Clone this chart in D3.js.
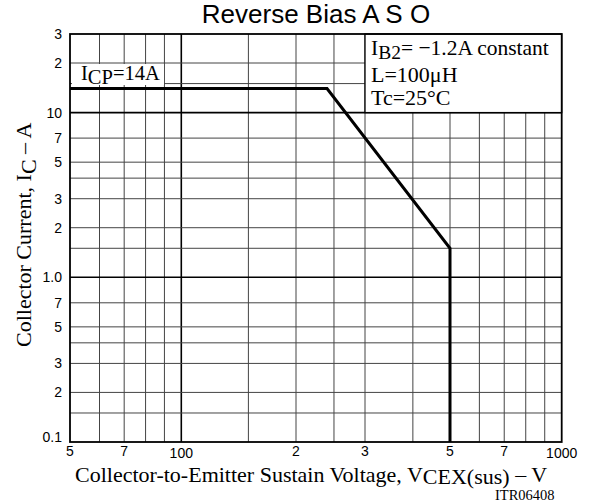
<!DOCTYPE html>
<html><head><meta charset="utf-8">
<script src="https://cdn.jsdelivr.net/npm/d3@7"></script>
<style>body{margin:0;background:#fff}</style>
</head><body>
<script>
// ---- data ----
const xTickValues = [50, 70, 100, 200, 300, 500, 700, 1000];
const xTickLabels = ["5", "7", "100", "2", "3", "5", "7", "1000"];
const yTickValues = [0.1, 0.2, 0.3, 0.5, 0.7, 1, 2, 3, 5, 7, 10, 20, 30];
const yTickLabels = ["0.1", "2", "3", "5", "7", "1.0", "2", "3", "5", "7", "10", "2", "3"];
const xGridValues = [60, 70, 80, 90, 100, 150, 200, 250, 300, 400, 500, 600, 700, 800, 900];
const yGridValues = [0.15, 0.2, 0.3, 0.4, 0.5, 0.7, 1, 1.5, 2, 3, 4, 5, 7, 10, 15, 20];
const curveVoltage = [50, 240, 500, 500];
const curveCurrent = [14, 14, 1.5, 0.1];

const W = 593, H = 504;
const svg = d3.select("body").append("svg").attr("width", W).attr("height", H);

// log scale, piecewise to follow the slightly uneven printed grid
const x = d3.scaleLog().domain([50, 60, 100, 200, 300, 500, 1000])
  .range([70, 99.5, 181.3, 296, 365, 450, 561.7]);
const y = d3.scaleLog().domain([0.1, 30]).range([442, 34]);
const x0 = x(50), x1 = x(1000), y0 = y(0.1), y1 = y(30);

const serif = "'Liberation Serif','Times New Roman',serif";
const sans = "'Liberation Sans',Arial,sans-serif";

// grid
const isDecadeX = v => v === 100;
const isDecadeY = v => v === 1 || v === 10;
svg.append("g").selectAll("line").data(xGridValues).join("line")
  .attr("x1", d => x(d)).attr("x2", d => x(d)).attr("y1", y0).attr("y2", y1)
  .attr("stroke", d => isDecadeX(d) ? "#000" : "#444")
  .attr("stroke-width", d => isDecadeX(d) ? 1.6 : 1);
svg.append("g").selectAll("line").data(yGridValues).join("line")
  .attr("y1", d => y(d)).attr("y2", d => y(d)).attr("x1", x0).attr("x2", x1)
  .attr("stroke", d => isDecadeY(d) ? "#000" : "#444")
  .attr("stroke-width", d => isDecadeY(d) ? 1.6 : 1);

// ICP label background
svg.append("rect").attr("x", 72).attr("y", 64).attr("width", 92).attr("height", 21).attr("fill", "#fff");
// condition box
svg.append("rect").attr("x", x(300)).attr("y", y1).attr("width", x1 - x(300)).attr("height", y(10) - y1)
  .attr("fill", "#fff").attr("stroke", "#000").attr("stroke-width", 1.3);

// border
svg.append("rect").attr("x", x0).attr("y", y1).attr("width", x1 - x0).attr("height", y0 - y1)
  .attr("fill", "none").attr("stroke", "#000").attr("stroke-width", 1.8);

// curve
const pts = curveVoltage.map((v, i) => [v, curveCurrent[i]]);
svg.append("path").datum(pts)
  .attr("d", d3.line().x(d => x(d[0])).y(d => y(d[1])))
  .attr("fill", "none").attr("stroke", "#000").attr("stroke-width", 3).attr("stroke-linejoin", "miter");

// x tick labels
svg.append("g").selectAll("text").data(xTickValues).join("text")
  .attr("x", d => x(d)).attr("y", d => (d === 100 || d === 1000) ? 458 : 456)
  .attr("text-anchor", "middle").attr("font-family", sans).attr("font-size", 14)
  .text((d, i) => xTickLabels[i]);

// y tick labels
svg.append("g").selectAll("text").data(yTickValues).join("text")
  .attr("x", 62).attr("y", d => y(d) + (d === 0.1 ? -5 : 0))
  .attr("dy", "0.36em")
  .attr("text-anchor", "end").attr("font-family", sans).attr("font-size", 14)
  .text((d, i) => yTickLabels[i]);

// title
svg.append("text").attr("x", 316).attr("y", 23).attr("text-anchor", "middle")
  .attr("font-family", sans).attr("font-size", 26).text("Reverse Bias A S O");

// ICP label
const icp = svg.append("text").attr("x", 81).attr("y", 80).attr("font-family", serif).attr("font-size", 20.5);
icp.append("tspan").text("I");
icp.append("tspan").attr("dy", 3.5).text("CP");
icp.append("tspan").attr("dy", -3.5).text("=14A");

// condition text
const c1 = svg.append("text").attr("x", 371).attr("y", 55).attr("font-family", serif).attr("font-size", 21.5);
c1.append("tspan").text("I");
c1.append("tspan").attr("dy", 4).attr("font-size", 19.5).text("B2");
c1.append("tspan").attr("dy", -4).text("= \u22121.2A constant");
svg.append("text").attr("x", 371).attr("y", 82).attr("font-family", serif).attr("font-size", 22).text("L=100\u03bcH");
svg.append("text").attr("x", 371).attr("y", 105).attr("font-family", serif).attr("font-size", 22).text("Tc=25\u00b0C");

// x axis label
const xl = svg.append("text").attr("x", 75).attr("y", 482).attr("font-family", serif).attr("font-size", 22);
xl.append("tspan").text("Collector-to-Emitter Sustain Voltage, V");
xl.append("tspan").attr("dy", 2).text("CEX(sus)");
xl.append("tspan").attr("dy", -2).text(" \u2013  V");
svg.append("text").attr("x", 495).attr("y", 500).attr("font-family", serif).attr("font-size", 14.5).text("ITR06408");

// y axis label
const yl = svg.append("text").attr("transform", "translate(31,347) rotate(-90)")
  .attr("font-family", serif).attr("font-size", 22);
yl.append("tspan").text("Collector Current, I");
yl.append("tspan").attr("dy", 5).text("C");
yl.append("tspan").attr("dy", -5).text("  \u2013  A");
</script>
</body></html>
